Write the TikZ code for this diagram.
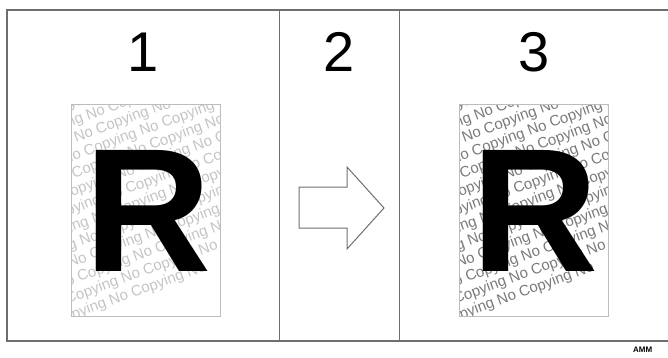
\documentclass[tikz,border=0pt]{standalone}
\usepackage{fontspec}
\setmainfont{Liberation Sans}
\definecolor{framegray}{HTML}{6E6E6E}
\definecolor{boxgray}{HTML}{BDBDBD}
\definecolor{marklight}{HTML}{C4C4C4}
\definecolor{markdark}{HTML}{7A7A7A}
\tikzset{
  frameline/.style={draw=framegray, line width=1.4pt},
  divline/.style={draw=framegray, line width=1pt},
  docbox/.style={draw=boxgray, line width=1pt},
  bignum/.style={inner sep=0pt, font=\fontsize{56}{56}\selectfont},
  bigletter/.style={inner sep=0pt, font=\fontsize{176}{176}\selectfont\bfseries},
  wmark/.style={inner sep=0pt, rotate=20, font=\fontsize{15}{15}\selectfont}
}
\newcommand{\copytext}{Copying No Copying No Copying No Copying No Copying No}
\begin{document}
\begin{tikzpicture}[x=1pt,y=-1pt]
\clip (0,0) rectangle (668,358);
\useasboundingbox (0,0) rectangle (668,358);
\draw[frameline] (7,10) rectangle (669,341);
\draw[divline] (279,10) -- (279,341);
\draw[divline] (399,10) -- (399,341);
\node[bignum] (num1) at (143,52) {1};
\node[bignum] (num2) at (339,52) {2};
\node[bignum] (num3) at (534,52) {3};
\begin{scope}
\clip (71,105) rectangle (220,316);
\foreach \k in {-2,...,11}
  \node[wmark, text=marklight] (wl\k) at ({145.5-12*\k},{95+22*\k}) {\copytext};
\end{scope}
\draw[docbox] (71,105) rectangle (220,316);
\node[bigletter] (rleft) at (148.5,211) {R};
\begin{scope}
\clip (459,105) rectangle (608,316);
\foreach \k in {-2,...,11}
  \node[wmark, text=markdark] (wr\k) at ({533.5-12*\k},{95+22*\k}) {\copytext};
\end{scope}
\draw[docbox] (459,105) rectangle (608,316);
\node[bigletter] (rright) at (535.5,211) {R};
\draw[draw=framegray, line width=1pt, line join=miter]
  (299,187) -- (347,187) -- (347,167) -- (384,208) -- (347,249) -- (347,228) -- (299,228) -- cycle;
\node[anchor=west, inner sep=0pt, font=\fontsize{8}{8}\selectfont\bfseries] (code) at (633,350) {AMM};
\end{tikzpicture}
\end{document}
